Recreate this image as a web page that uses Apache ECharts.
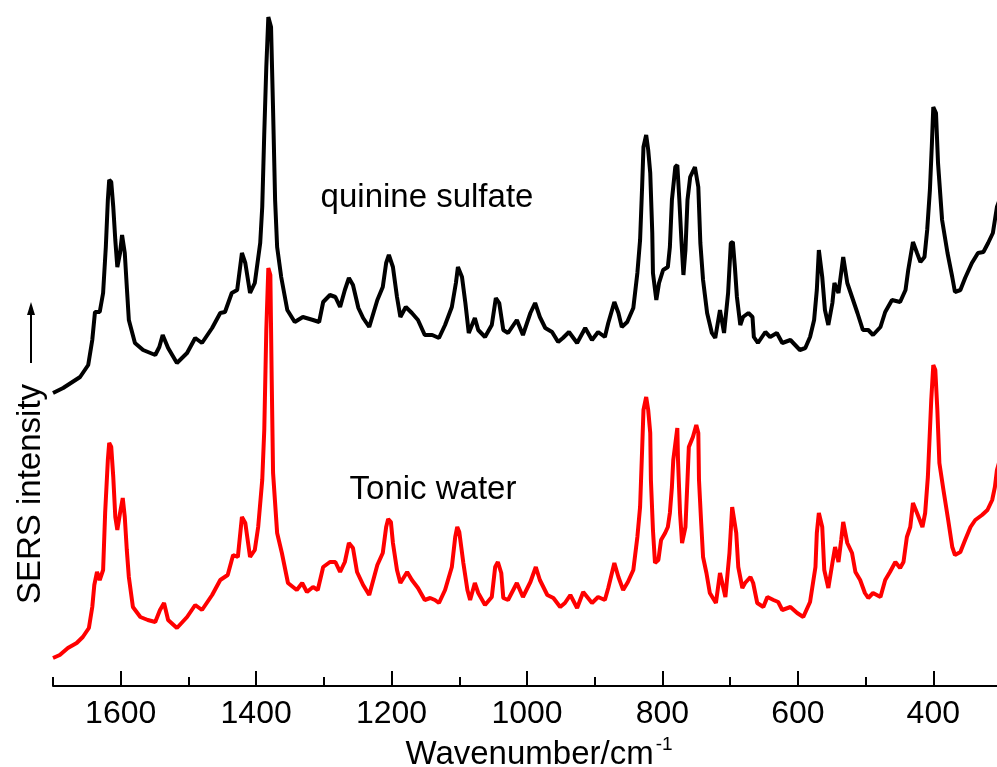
<!DOCTYPE html>
<html>
<head>
<meta charset="utf-8">
<script src="https://cdn.jsdelivr.net/npm/echarts@6/dist/echarts.min.js"></script>
<style>html,body{margin:0;padding:0;background:#fff}#c{width:997px;height:767px}</style>
</head>
<body>
<div id="c"></div>
<script>
// Wavenumber (cm^-1), intensity (arbitrary units, offset spectra)
const quinineSulfate = [
[1700,293],[1685,298],[1660,309],[1648,321],[1642,346],[1638,374],[1631,374],[1626,393],[1622,439],[1619,486],[1617,506],[1614,504],[1611,479],[1608,446],[1605,419],[1601,433],[1598,451],[1597,449],[1594,433],[1591,399],[1588,366],[1579,343],[1567,336],[1549,331],[1543,339],[1538,351],[1530,338],[1517,323],[1502,333],[1490,348],[1480,343],[1465,358],[1453,373],[1446,374],[1436,393],[1428,396],[1421,433],[1416,423],[1409,393],[1402,403],[1394,443],[1391,479],[1388,553],[1385,619],[1382,669],[1378,659],[1375,576],[1372,486],[1369,439],[1363,409],[1354,376],[1343,364],[1331,369],[1316,366],[1307,364],[1301,384],[1291,391],[1283,389],[1276,379],[1269,396],[1263,408],[1257,401],[1249,378],[1242,368],[1233,359],[1221,386],[1213,399],[1208,423],[1204,431],[1198,419],[1192,389],[1187,369],[1179,379],[1170,373],[1161,366],[1151,351],[1140,351],[1130,348],[1121,361],[1111,379],[1105,403],[1102,419],[1096,409],[1091,383],[1086,353],[1077,368],[1072,356],[1062,349],[1052,361],[1046,388],[1041,383],[1035,356],[1028,353],[1015,366],[1006,351],[995,373],[988,383],[981,369],[973,358],[963,354],[954,344],[947,348],[938,354],[926,343],[914,358],[904,346],[895,354],[885,349],[880,363],[871,384],[865,373],[860,359],[852,364],[843,378],[837,413],[833,446],[830,499],[828,539],[824,551],[821,536],[818,513],[815,453],[814,413],[809,386],[805,403],[799,416],[792,419],[789,439],[786,486],[781,519],[778,521],[775,486],[772,446],[769,411],[766,436],[763,486],[759,509],[752,519],[747,499],[744,443],[740,406],[734,373],[727,353],[722,348],[715,376],[709,353],[703,393],[699,443],[696,444],[693,419],[690,389],[685,361],[681,369],[673,373],[667,369],[665,349],[659,343],[648,354],[641,349],[631,353],[623,343],[611,346],[597,336],[589,338],[582,349],[576,366],[572,396],[569,436],[564,409],[560,376],[555,361],[549,383],[546,403],[540,393],[533,429],[527,403],[520,389],[512,373],[504,356],[496,356],[489,351],[478,359],[471,374],[461,386],[449,384],[441,396],[437,416],[430,444],[424,433],[419,424],[413,429],[409,456],[405,496],[402,543],[400,579],[396,573],[393,523],[387,466],[379,433],[372,409],[368,394],[360,396],[353,408],[343,423],[334,433],[326,434],[319,443],[312,453],[306,479],[300,490]
];
const tonicWater = [
[1700,28],[1690,31],[1678,38],[1665,43],[1656,49],[1647,58],[1642,79],[1639,101],[1635,114],[1631,106],[1626,116],[1623,173],[1619,226],[1617,243],[1614,239],[1611,209],[1608,169],[1605,156],[1601,173],[1597,188],[1594,169],[1591,136],[1588,109],[1582,79],[1571,69],[1560,66],[1549,64],[1542,76],[1536,83],[1530,66],[1517,58],[1502,69],[1490,81],[1480,76],[1465,91],[1453,106],[1442,111],[1434,131],[1427,129],[1421,169],[1416,163],[1409,129],[1402,136],[1397,159],[1391,206],[1388,256],[1385,356],[1382,418],[1379,411],[1377,306],[1375,213],[1369,153],[1362,133],[1353,103],[1340,96],[1332,103],[1325,94],[1316,99],[1309,96],[1301,119],[1291,124],[1283,124],[1276,114],[1269,124],[1263,143],[1257,138],[1251,114],[1242,101],[1233,91],[1221,121],[1213,133],[1208,159],[1205,167],[1201,164],[1198,143],[1192,116],[1187,103],[1177,114],[1170,106],[1161,98],[1151,86],[1143,88],[1136,86],[1130,83],[1121,96],[1111,119],[1106,149],[1103,159],[1100,154],[1094,123],[1088,96],[1084,86],[1077,103],[1072,93],[1062,81],[1052,89],[1047,119],[1043,124],[1038,113],[1035,88],[1028,86],[1015,103],[1006,89],[995,104],[987,119],[981,106],[970,91],[961,88],[951,79],[944,83],[936,91],[926,78],[917,94],[904,83],[895,89],[885,86],[880,98],[871,123],[865,109],[858,96],[851,104],[843,116],[837,149],[833,179],[830,236],[828,276],[824,289],[821,276],[818,253],[817,206],[814,156],[811,123],[806,126],[802,146],[796,153],[792,159],[789,173],[786,199],[784,226],[778,258],[777,226],[774,173],[771,143],[766,159],[763,206],[761,239],[755,249],[750,261],[747,253],[746,206],[743,166],[740,129],[735,113],[730,93],[721,83],[715,113],[707,89],[701,133],[697,179],[696,181],[691,153],[688,119],[682,98],[678,103],[670,109],[666,103],[660,83],[651,79],[645,89],[636,86],[629,84],[623,76],[611,79],[601,73],[592,69],[582,84],[574,119],[572,153],[569,173],[564,159],[561,116],[555,98],[549,123],[545,139],[540,124],[536,146],[533,164],[527,143],[520,133],[515,114],[508,106],[501,93],[496,88],[489,93],[478,89],[471,106],[464,114],[456,124],[449,118],[444,124],[439,149],[434,159],[430,183],[424,173],[416,159],[412,173],[408,209],[403,286],[400,321],[397,316],[394,276],[391,223],[385,196],[378,166],[372,139],[368,131],[360,134],[353,146],[345,159],[338,166],[328,171],[320,176],[313,186],[309,199],[306,216],[300,230]
];
const majorTicks = [1600, 1400, 1200, 1000, 800, 600, 400];
const minorTicks = [1700, 1500, 1300, 1100, 900, 700, 500, 300];
const seriesNames = ['quinine sulfate', 'Tonic water'];
const xAxisTitle = 'Wavenumber/cm';
const xAxisSup = '-1';
const yAxisTitle = 'SERS intensity';

const FONT = '"Liberation Sans", Arial, Helvetica, sans-serif';
const chart = echarts.init(document.getElementById('c'), null, {renderer: 'canvas'});
const baseX = {
  type: 'value', inverse: true, min: 300, max: 1700,
  position: 'bottom', offset: 0, splitLine: {show: false}
};
chart.setOption({
  animation: false,
  backgroundColor: '#fff',
  grid: {left: 53, right: -4, top: 0, bottom: 81, containLabel: false, outerBoundsMode: 'none'},
  xAxis: [
    Object.assign({}, baseX, {
      axisLine: {show: true, lineStyle: {color: '#000', width: 2}},
      axisTick: {show: true, inside: true, length: 15, lineStyle: {color: '#000', width: 2}, customValues: majorTicks},
      axisLabel: {show: true, customValues: majorTicks, margin: 12, color: '#000', fontSize: 32, fontFamily: FONT,
        formatter: function (v) { return String(v); }},
      name: '{a|' + xAxisTitle + '}{s|' + xAxisSup + '}',
      nameLocation: 'middle', nameGap: 49,
      nameTextStyle: {
        padding: [0, 0, 0, 24],
        rich: {
          a: {fontSize: 33, fontFamily: FONT, color: '#000', lineHeight: 36},
          s: {fontSize: 19, fontFamily: FONT, color: '#000', lineHeight: 36, padding: [0, 0, 22, 2]}
        }
      }
    }),
    Object.assign({}, baseX, {
      axisLine: {show: false},
      axisTick: {show: true, inside: true, length: 9, lineStyle: {color: '#000', width: 2}, customValues: minorTicks},
      axisLabel: {show: false}
    })
  ],
  yAxis: {type: 'value', min: 0, max: 686, show: false},
  series: [
    {name: seriesNames[1], type: 'line', data: tonicWater, showSymbol: false, symbol: 'none',
      lineStyle: {color: '#ff0000', width: 4}, z: 2},
    {name: seriesNames[0], type: 'line', data: quinineSulfate, showSymbol: false, symbol: 'none',
      lineStyle: {color: '#000000', width: 4}, z: 3}
  ],
  graphic: [
    {type: 'text', x: 427, y: 198, style: {text: seriesNames[0], font: '33px ' + FONT, fill: '#000', align: 'center', verticalAlign: 'middle'}},
    {type: 'text', x: 433, y: 490, style: {text: seriesNames[1], font: '33px ' + FONT, fill: '#000', align: 'center', verticalAlign: 'middle'}},
    {type: 'text', x: 31, y: 494, rotation: Math.PI / 2, style: {text: yAxisTitle, font: '33px ' + FONT, fill: '#000', align: 'center', verticalAlign: 'middle'}},
    {type: 'line', shape: {x1: 31, y1: 363, x2: 31, y2: 310}, style: {stroke: '#000', lineWidth: 2}},
    {type: 'polygon', shape: {points: [[31, 302], [27, 315], [35, 315]]}, style: {fill: '#000'}}
  ]
});
</script>
</body>
</html>
